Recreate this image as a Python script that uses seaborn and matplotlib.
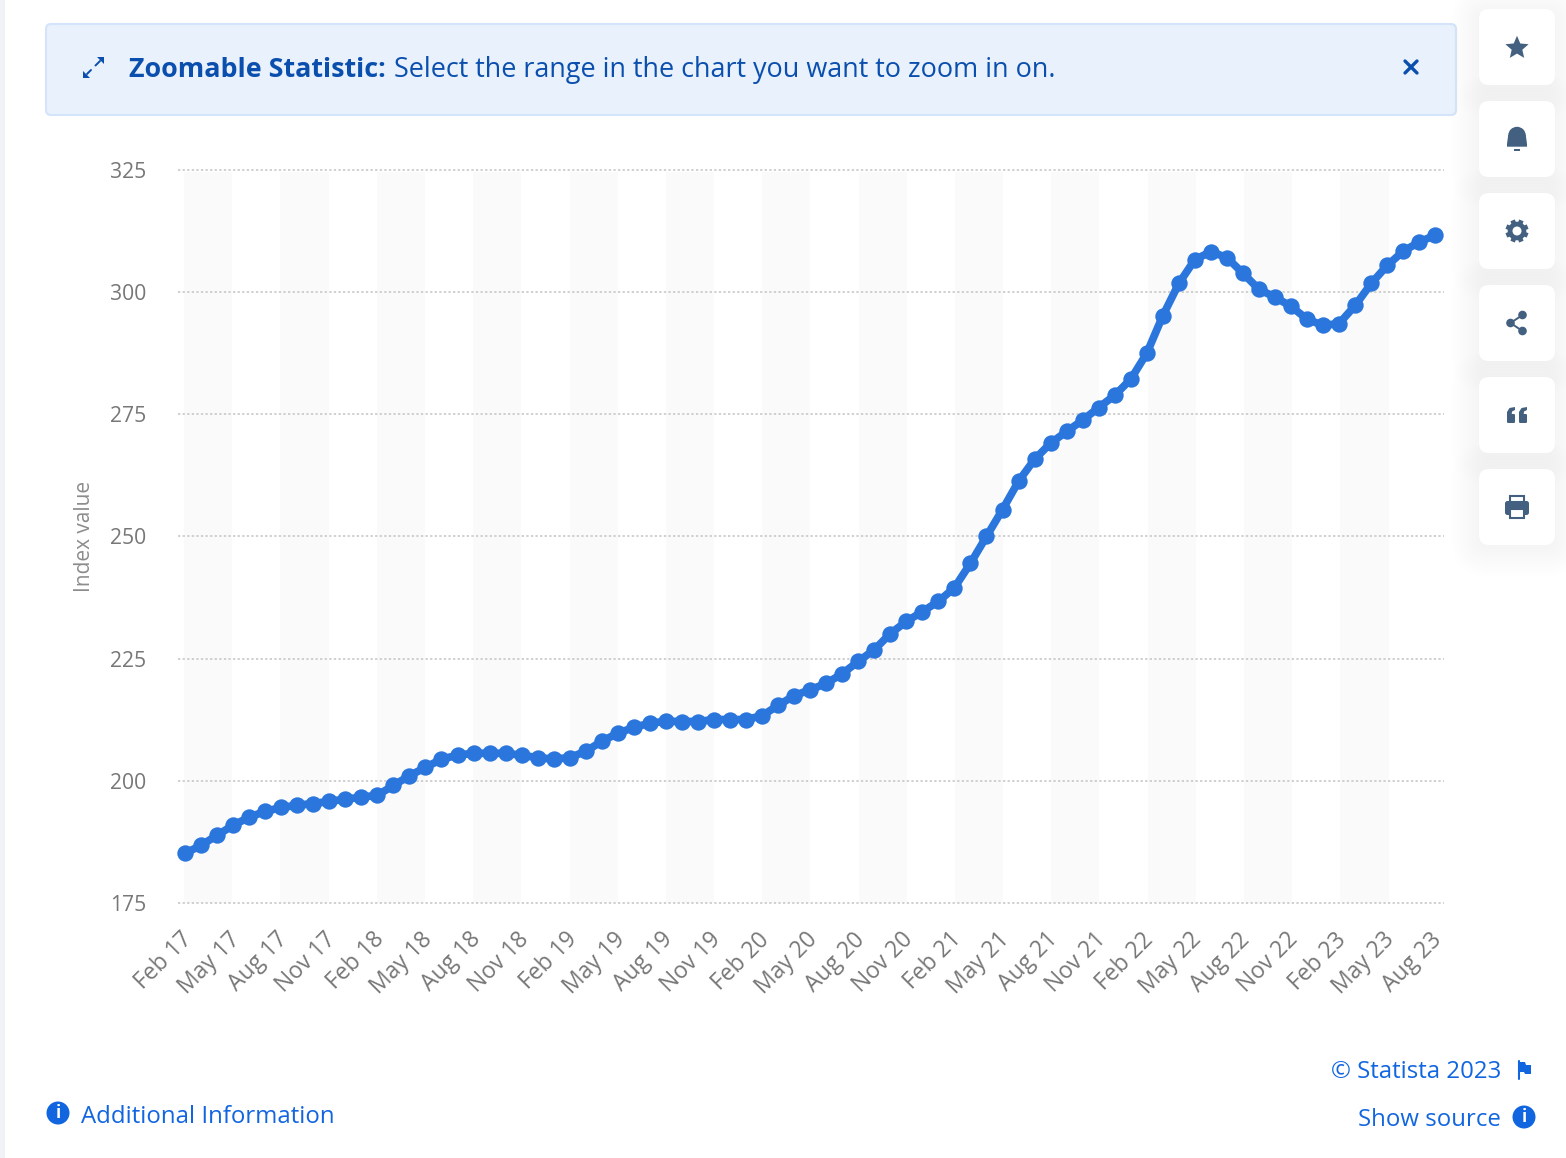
import numpy as np
import pandas as pd
import matplotlib
matplotlib.use("Agg")
import matplotlib.pyplot as plt
from matplotlib.patches import FancyBboxPatch, Circle, Rectangle, Wedge, Polygon
from matplotlib.transforms import ScaledTranslation
import seaborn as sns

index_values = [
    185.1, 186.75, 188.8, 190.85, 192.5, 193.7, 194.5, 194.95, 195.3, 195.75, 196.2, 196.6,
    197.0, 199.0, 201.0, 202.7, 204.4, 205.2, 205.6, 205.6, 205.6, 205.2, 204.7, 204.4,
    204.7, 206.0, 208.05, 209.7, 210.9, 211.75, 212.15, 212.1, 212.1, 212.5, 212.5, 212.5,
    213.3, 215.4, 217.4, 218.6, 219.9, 221.9, 224.4, 226.8, 230.1, 232.6, 234.6, 236.7,
    239.5, 244.5, 250.0, 255.5, 261.3, 265.8, 269.1, 271.5, 273.8, 276.4, 278.9, 282.2,
    287.5, 295.2, 301.8, 306.7, 308.3, 307.1, 303.9, 300.6, 299.0, 297.1, 294.5, 293.2,
    293.6, 297.3, 301.8, 305.5, 308.4, 310.3, 311.7,
]
y_ticks = [175, 200, 225, 250, 275, 300, 325]
x_tick_labels = [
    "Feb 17", "May 17", "Aug 17", "Nov 17", "Feb 18", "May 18", "Aug 18", "Nov 18",
    "Feb 19", "May 19", "Aug 19", "Nov 19", "Feb 20", "May 20", "Aug 20", "Nov 20",
    "Feb 21", "May 21", "Aug 21", "Nov 21", "Feb 22", "May 22", "Aug 22", "Nov 22",
    "Feb 23", "May 23", "Aug 23",
]

W, H = 1566, 1158
sns.set_theme(style="white")
plt.rcParams["font.family"] = ["Open Sans", "DejaVu Sans"]

BLUE = "#2a76dd"
DARK = "#0b4fae"
LINK = "#1166e0"
ICON = "#436080"

fig = plt.figure(figsize=(W / 100, H / 100), dpi=100, facecolor="white")

ov = fig.add_axes([0, 0, 1, 1], zorder=0)
ov.set_xlim(0, W)
ov.set_ylim(H, 0)
ov.axis("off")

ov.add_patch(Rectangle((0, 0), 4.5, H, fc="#f1f2f5", ec="none"))
ov.add_patch(FancyBboxPatch((46, 24), 1410, 91, boxstyle="round,pad=0,rounding_size=5",
                            fc="#e8f1fc", ec="#d4e4fa", lw=1.5))
ov.text(129, 67, "Zoomable Statistic:", fontsize=19.4, fontweight="bold", color=DARK,
        va="center_baseline", ha="left")
ov.text(394, 67, "Select the range in the chart you want to zoom in on.", fontsize=19.47,
        color=DARK, va="center_baseline", ha="left")
# expand icon
ov.add_patch(Polygon([(97, 57), (104, 57), (104, 64)], fc=DARK, ec="none"))
ov.plot([100, 95.5], [61, 65.5], color=DARK, lw=1.4)
ov.add_patch(Polygon([(83, 70.5), (83, 77.5), (90, 77.5)], fc=DARK, ec="none"))
ov.plot([87, 91], [74, 70], color=DARK, lw=1.4)
# close
ov.plot([1405, 1417], [61, 73], color=DARK, lw=2.4, solid_capstyle="round")
ov.plot([1417, 1405], [61, 73], color=DARK, lw=2.4, solid_capstyle="round")

# side buttons with soft shadow
tops = [9, 101, 193, 285, 377, 469]
for t in tops:
    for grow in range(28, 0, -3):
        ov.add_patch(FancyBboxPatch((1479 - grow, t - grow + 3), 76 + 2 * grow, 76 + 2 * grow,
                                    boxstyle=f"round,pad=0,rounding_size={10 + grow}",
                                    fc="#33415f", ec="none", alpha=0.005, zorder=1))
for t in tops:
    ov.add_patch(FancyBboxPatch((1479, t), 76, 76, boxstyle="round,pad=0,rounding_size=10",
                                fc="white", ec="none", zorder=2))
cx = 1517
iz = 5
# star
angles = np.deg2rad(-90 + 36 * np.arange(10))
radii = np.where(np.arange(10) % 2 == 0, 12.2, 5.6)
ov.add_patch(Polygon(np.column_stack([cx + radii * np.cos(angles), 48 + radii * np.sin(angles)]),
                     fc=ICON, ec="none", zorder=iz))
# bell
ov.add_patch(Wedge((cx, 135.6), 8.8, 180, 360, fc=ICON, ec="none", zorder=iz))
ov.add_patch(Polygon([(cx - 8.8, 135), (cx + 8.8, 135), (cx + 10, 144), (cx + 10, 146.7), (cx - 10, 146.7), (cx - 10, 144)],
                     fc=ICON, ec="none", zorder=iz))
ov.add_patch(Rectangle((cx - 3, 149), 6, 2, fc=ICON, ec="none", zorder=iz))
# gear
for k in range(8):
    a = k * np.pi / 4 + np.pi / 8
    ov.plot([cx, cx + 11.5 * np.cos(a)], [231, 231 + 11.5 * np.sin(a)], color=ICON, lw=3.4,
            solid_capstyle="butt", zorder=iz)
ov.add_patch(Circle((cx, 231), 9.3, fc=ICON, ec="none", zorder=iz))
ov.add_patch(Circle((cx, 231), 4.5, fc="white", ec="none", zorder=iz + 1))
# share
for p in [(1522.5, 315), (1522.5, 331), (1510.5, 323)]:
    ov.add_patch(Circle(p, 4.3, fc=ICON, ec="none", zorder=iz))
ov.plot([1522.5, 1510.5, 1522.5], [315, 323, 331], color=ICON, lw=1.4, zorder=iz)
# quote
for x0 in (1507, 1519):
    ov.add_patch(FancyBboxPatch((x0, 414), 8, 9, boxstyle="round,pad=0,rounding_size=1.2",
                                fc=ICON, ec="none", zorder=iz))
    ov.add_patch(Polygon([(x0, 416), (x0, 412), (x0 + 2.5, 408), (x0 + 8, 407), (x0 + 8, 410), (x0 + 5, 411.5), (x0 + 4.5, 416)],
                         fc=ICON, ec="none", zorder=iz))
# print
ov.add_patch(FancyBboxPatch((1505, 501), 24, 14, boxstyle="round,pad=0,rounding_size=2.5",
                            fc=ICON, ec="none", zorder=iz))
ov.add_patch(Rectangle((1510, 496), 14, 6, fc="white", ec=ICON, lw=1.5, zorder=iz))
ov.add_patch(Rectangle((1510, 509), 14, 9, fc="white", ec=ICON, lw=1.5, zorder=iz + 1))

# footer
def info(x, y):
    ov.add_patch(Circle((x, y), 11.5, fc=LINK, ec="none", zorder=iz))
    ov.text(x, y + 0.5, "i", color="white", fontsize=12, fontweight="bold", ha="center",
            va="center", zorder=iz + 1)

info(58, 1113)
info(1524, 1117)
ov.text(81, 1114, "Additional Information", fontsize=17.3, color=LINK, ha="left", va="center_baseline")
ov.text(1501, 1069.5, "© Statista 2023", fontsize=17.3, color=LINK, ha="right", va="center_baseline")
ov.text(1501, 1117, "Show source", fontsize=17.3, color=LINK, ha="right", va="center_baseline")
ov.plot([1518.5, 1518.5], [1061, 1079], color=LINK, lw=1.5, zorder=iz)
ov.add_patch(Polygon([(1519, 1062), (1525, 1062), (1526, 1065), (1531, 1065), (1531, 1074), (1525, 1074), (1524, 1072), (1519, 1072)],
                     fc=LINK, ec="none", zorder=iz))

# chart
left, right, top, bottom = 178, 1443.5, 170.2, 902.7
ax = fig.add_axes([left / W, 1 - bottom / H, (right - left) / W, (bottom - top) / H], zorder=3)
ax.patch.set_alpha(0)

df = pd.DataFrame({"month": np.arange(len(index_values)), "value": index_values})
for start in df["month"].iloc[::6]:
    if start + 3 <= df["month"].iloc[-1]:
        s = start * 1.002 - 0.06
        ax.axvspan(s, s + 3, ymax=0.998, color="#fafafa", lw=0, zorder=0)

sns.lineplot(data=df, x="month", y="value", ax=ax, color=BLUE, linewidth=5.6,
             marker="o", markersize=11.8, markeredgewidth=0, zorder=4, errorbar=None,
             clip_on=False)

ax.set_xlim(-0.437, 78.51)
ax.set_ylim(175, 325)
ax.set_yticks(y_ticks)
ax.set_xticks(df["month"].iloc[::3])
ax.set_xticklabels(x_tick_labels, rotation=45, ha="right", va="top", rotation_mode="anchor")
ax.tick_params(axis="y", length=0, pad=23, labelsize=15.2, labelcolor="#777777")
ax.tick_params(axis="x", length=0, pad=18, labelsize=16.5, labelcolor="#777777")
shift = ScaledTranslation(-5 / 100, 0, fig.dpi_scale_trans)
for lab in ax.get_xticklabels():
    lab.set_transform(lab.get_transform() + shift)
ax.grid(axis="y", color="#c4c4c4", linestyle=(0, (1.5, 1.5)), linewidth=1.1)
ax.grid(axis="x", visible=False)
ax.set_axisbelow(True)
for line in ax.get_ygridlines():
    line.set_clip_on(False)
sns.despine(ax=ax, left=True, bottom=True)
ax.set_xlabel("")
ax.set_ylabel("Index value", fontsize=15, color="#8c8c8c")
ax.yaxis.set_label_coords((95 - left) / (right - left), 0.5)

fig.savefig("out.png", dpi=100, facecolor="white")
